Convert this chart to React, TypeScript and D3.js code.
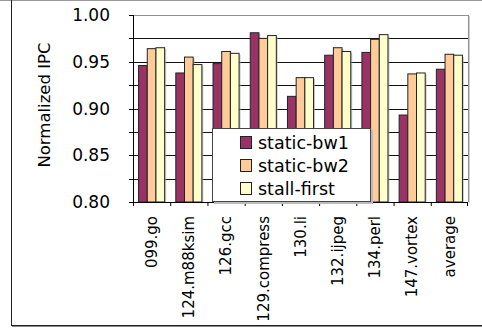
import React from "react";
import * as d3 from "d3";

const categories = ["099.go", "124.m88ksim", "126.gcc", "129.compress", "130.li", "132.ijpeg", "134.perl", "147.vortex", "average"];
const seriesNames = ["static-bw1", "static-bw2", "stall-first"];
const staticBw1 = [0.946, 0.938, 0.948, 0.981, 0.913, 0.957, 0.960, 0.893, 0.942];
const staticBw2 = [0.964, 0.955, 0.961, 0.975, 0.933, 0.965, 0.974, 0.937, 0.958];
const stallFirst = [0.965, 0.947, 0.959, 0.978, 0.933, 0.961, 0.979, 0.938, 0.957];
const yTickLabels = [0.8, 0.85, 0.9, 0.95, 1.0];
const colors = ["#993366", "#FFCC99", "#FFFFCC"];

export default function App() {
  const W = 482, H = 329;
  const left = 133, right = 468, top = 15, bottom = 202;
  const font = "'DejaVu Sans', Verdana, sans-serif";
  const series = [staticBw1, staticBw2, stallFirst];

  const x = d3.scaleBand<string>().domain(categories).range([left, right]).paddingInner(0.3).paddingOuter(0.15);
  const xOuter = d3.scaleBand<string>().domain(categories).range([left, right]);
  const xInner = d3.scaleBand<string>().domain(seriesNames).range([0, x.bandwidth()]);
  const y = d3.scaleLinear().domain([0.8, 1.0]).range([bottom, top]);
  const grid = d3.range(0.8, 1.0001, 0.025);

  return (
    <svg width={W} height={H} style={{ position: "absolute", left: 0, top: 0 }}>
      <rect x={0} y={0} width={W} height={H} fill="#fff" />
      {/* outer frame */}
      <line x1={0} x2={W} y1={0.5} y2={0.5} stroke="#9a9a9a" />
      <line x1={11.5} x2={11.5} y1={0} y2={325} stroke="#222" />
      <line x1={11} x2={W} y1={325.5} y2={325.5} stroke="#222" />
      <line x1={12} x2={W} y1={326.5} y2={326.5} stroke="#888" />

      {/* gridlines */}
      {grid.filter(v => v > 0.801 && v < 0.999).map((v, i) => (
        <line key={i} x1={left} x2={right} y1={Math.round(y(v)) + 0.5} y2={Math.round(y(v)) + 0.5} stroke="#111" />
      ))}
      {/* plot border top/right */}
      <line x1={left} x2={right} y1={top + 0.5} y2={top + 0.5} stroke="#909090" />
      <line x1={right + 0.5} x2={right + 0.5} y1={top} y2={bottom} stroke="#909090" />
      <line x1={right + 1.5} x2={right + 1.5} y1={top + 1} y2={bottom + 1} stroke="#d0d0d0" />

      {/* bars */}
      {categories.map((c, ci) => (
        <g key={c} transform={`translate(${x(c)},0)`}>
          {series.map((s, si) => {
            const bx = xInner(seriesNames[si])!;
            const by = y(s[ci]);
            return (
              <g key={si}>
                <rect x={bx + 1.5} y={by + 1.5} width={xInner.bandwidth()} height={bottom - by - 1.5} fill="#aaa" opacity={0.6} />
                <rect x={bx} y={by} width={xInner.bandwidth()} height={bottom - by} fill={colors[si]} stroke="#222" strokeWidth={1} />
              </g>
            );
          })}
        </g>
      ))}

      {/* y axis */}
      <line x1={left + 0.5} x2={left + 0.5} y1={top} y2={bottom} stroke="#000" />
      {grid.map((v, i) => (
        <line key={i} x1={left - 4} x2={left} y1={Math.round(y(v)) + 0.5} y2={Math.round(y(v)) + 0.5} stroke="#000" />
      ))}
      {yTickLabels.map(v => (
        <text key={v} x={110} y={y(v)} dy="0.36em" textAnchor="end" fontFamily={font} fontSize={17} fill="#000">
          {v.toFixed(2)}
        </text>
      ))}
      {/* x axis */}
      <line x1={left} x2={right} y1={bottom + 0.5} y2={bottom + 0.5} stroke="#000" />
      {categories.map((c, i) => (
        <line key={i} x1={xOuter(c)! + 0.5} x2={xOuter(c)! + 0.5} y1={bottom} y2={bottom + 4} stroke="#000" />
      ))}
      <line x1={right - 0.5} x2={right - 0.5} y1={bottom} y2={bottom + 4} stroke="#000" />
      {categories.map(c => {
        const cx = xOuter(c)! + xOuter.bandwidth() / 2;
        return (
          <text key={c} transform={`translate(${cx},${216}) rotate(-90)`} textAnchor="end" dy="0.35em" fontFamily={font} fontSize={15} fill="#000">
            {c}
          </text>
        );
      })}

      {/* y title */}
      <text transform={`translate(${44},${105}) rotate(-90)`} textAnchor="middle" dy="0.35em" fontFamily={font} fontSize={16.5} fill="#000">
        Normalized IPC
      </text>

      {/* legend */}
      <rect x={214} y={130} width={159} height={74} fill="#bbb" />
      <rect x={212.5} y={128.5} width={158} height={73} fill="#fff" stroke="#444" />
      {seriesNames.map((n, i) => (
        <g key={n}>
          <rect x={240.5} y={136.5 + i * 23} width={11} height={12} fill={colors[i]} stroke="#222" />
          <text x={258} y={143 + i * 23} dy="0.35em" fontFamily={font} fontSize={17.5} fill="#000">
            {n}
          </text>
        </g>
      ))}
    </svg>
  );
}
